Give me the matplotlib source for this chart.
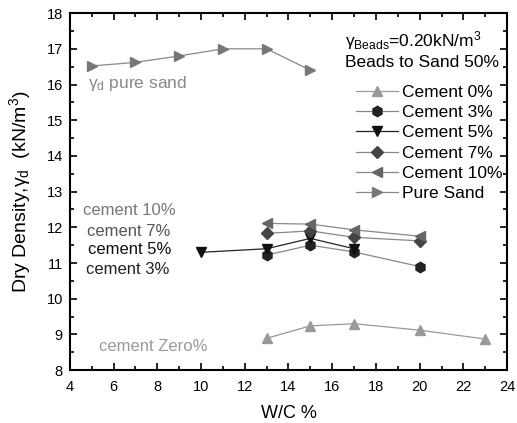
import matplotlib
matplotlib.use("Agg")
import matplotlib.pyplot as plt
from matplotlib.ticker import MultipleLocator

plt.rcParams['font.family'] = ['Liberation Sans', 'DejaVu Sans']
plt.rcParams['mathtext.fontset'] = 'custom'
plt.rcParams['mathtext.rm'] = 'Liberation Sans'
plt.rcParams['mathtext.it'] = 'Liberation Sans'

# Data
wc_c0 = [13, 15, 17, 20, 23]
gd_c0 = [8.89, 9.24, 9.30, 9.12, 8.87]
wc_c3 = [13, 15, 17, 20]
gd_c3 = [11.22, 11.50, 11.31, 10.90]
wc_c5 = [10, 13, 15, 17]
gd_c5 = [11.30, 11.40, 11.69, 11.40]
wc_c7 = [13, 15, 17, 20]
gd_c7 = [11.83, 11.90, 11.72, 11.62]
wc_c10 = [13, 15, 17, 20]
gd_c10 = [12.11, 12.09, 11.93, 11.75]
wc_ps = [5, 7, 9, 11, 13, 15]
gd_ps = [16.52, 16.62, 16.80, 17.00, 17.00, 16.40]

labels = ['Cement 0%', 'Cement 3%', 'Cement 5%', 'Cement 7%', 'Cement 10%', 'Pure Sand']

fig = plt.figure(figsize=(5.17, 4.23), dpi=100)
ax = fig.add_axes([0.135, 0.125, 0.846, 0.844])

series = [
    (wc_c0, gd_c0, '^', '#999999', labels[0], 7.5),
    (wc_c3, gd_c3, 'h', '#222222', labels[1], 7.5),
    (wc_c5, gd_c5, 'v', '#111111', labels[2], 7.5),
    (wc_c7, gd_c7, 'D', '#444444', labels[3], 6),
    (wc_c10, gd_c10, '<', '#666666', labels[4], 7.5),
    (wc_ps, gd_ps, '>', '#777777', labels[5], 7.5),
]
line_cols = ['#999999', '#888888', '#222222', '#888888', '#888888', '#888888']
for (x, y, m, c, lab, ms), lc in zip(series, line_cols):
    ax.plot(x, y, color=lc, lw=0.9, marker=m, markersize=ms,
            markerfacecolor=c, markeredgecolor=c, label=lab)

ax.set_xlim(4, 24)
ax.set_ylim(8, 18)
ax.xaxis.set_major_locator(MultipleLocator(2))
ax.xaxis.set_minor_locator(MultipleLocator(1))
ax.yaxis.set_major_locator(MultipleLocator(1))
ax.yaxis.set_minor_locator(MultipleLocator(0.5))
ax.tick_params(which='both', direction='in', top=True, right=True, labelsize=10.5, width=1.2)
ax.tick_params(which='major', length=5)
ax.tick_params(which='minor', length=3)
ax.tick_params(axis='x', pad=7)
ax.tick_params(axis='y', pad=5)
for s in ax.spines.values():
    s.set_linewidth(1.5)

ax.set_xlabel('W/C %', fontsize=13, labelpad=8)
ax.set_ylabel(r'Dry Density,$\gamma_d$  (kN/m$^3$)', fontsize=14, labelpad=10)

ax.text(4.82, 16.04, r'$\gamma_d$ pure sand', color='#888888', fontsize=12.5, va='center')
ax.text(4.6, 12.48, 'cement 10%', color='#777777', fontsize=12, va='center')
ax.text(4.78, 11.87, 'cement 7%', color='#555555', fontsize=12, va='center')
ax.text(4.82, 11.38, 'cement 5%', color='#111111', fontsize=12, va='center')
ax.text(4.75, 10.83, 'cement 3%', color='#222222', fontsize=12, va='center')
ax.text(5.33, 8.67, 'cement Zero%', color='#999999', fontsize=12, va='center')

ax.text(16.6, 17.24, r'$\gamma_{Beads}$=0.20kN/m$^3$', fontsize=12.5, va='center')
ax.text(16.6, 16.63, 'Beads to Sand 50%', fontsize=12.5, va='center')

ax.legend(loc='upper left', bbox_to_anchor=(0.655, 0.80), frameon=False, fontsize=12.5,
          handlelength=2.4, handletextpad=0.25, labelspacing=0.3, borderaxespad=0.0,
          borderpad=0.0)

fig.savefig('out.png', dpi=100)
